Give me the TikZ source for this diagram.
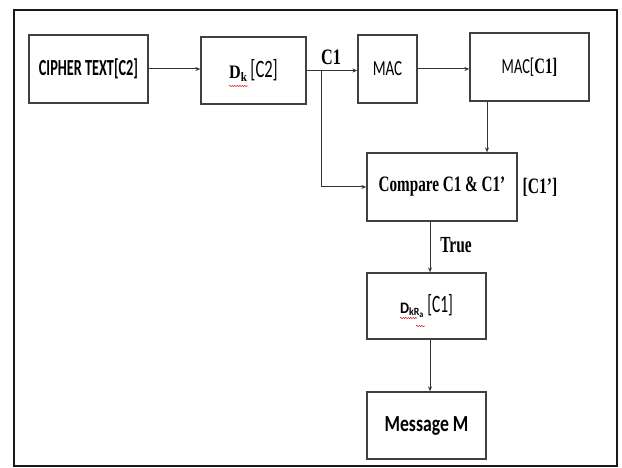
\documentclass[tikz,border=0pt]{standalone}
\usepackage{fontspec}
\usepackage{graphicx}
\setmainfont{Liberation Serif}
\newfontfamily\calfont{Carlito}
\usetikzlibrary{arrows.meta,decorations.pathmorphing}
\newcommand\hs[2]{\scalebox{#1}[1]{#2}}
\newcommand\fs[1]{\fontsize{#1}{#1}\selectfont}
\begin{document}
\begin{tikzpicture}[x=1pt,y=-1pt,
  box/.style={draw=black!75,line width=1.3pt,inner sep=0pt,anchor=center},
  conn/.style={draw=black!80,line width=1pt,-{Stealth[length=5pt,width=4pt]}},
  lbl/.style={inner sep=0pt,anchor=center},
  squig/.style={draw=red!85!black,line width=0.5pt,decorate,decoration={snake,amplitude=0.6pt,segment length=2.5pt}}]
\useasboundingbox (0,0) rectangle (622,468);
\draw[line width=2.6pt,black!90] (14,10) rectangle (617,466);

\node[box,minimum width=119pt,minimum height=68pt] (cipher) at (88.5,69)
  {\hs{0.62}{\calfont\bfseries\fs{23}CIPHER TEXT[C2]}};
\node[box,minimum width=105pt,minimum height=67pt] (dk) at (253.5,70.5)
  {\raisebox{-1pt}{\hs{0.85}{\fs{19}\bfseries D\textsubscript{\fs{13}k}}}\hspace{3pt}\hs{0.66}{\calfont\fs{25}[C2]}};
\node[box,minimum width=59pt,minimum height=68pt] (mac) at (387.5,69)
  {\hs{0.7}{\calfont\fs{21.5}MAC}};
\node[box,minimum width=119pt,minimum height=68pt] (macc) at (529.5,67)
  {\hs{0.67}{\calfont\fs{21.5}MAC[}\hs{0.67}{\fs{22}\bfseries C1]}};
\node[box,minimum width=150pt,minimum height=68pt] (cmp) at (442,187)
  {\hs{0.69}{\fs{22}\bfseries Compare C1 \& C1’}};
\node[box,minimum width=119pt,minimum height=66pt] (dkra) at (426.5,306)
  {\raisebox{-1pt}{\hs{0.9}{\calfont\bfseries\fs{16}D\textsubscript{\fs{11}kR\textsubscript{\fs{9}a}}}}\hspace{3pt}\hs{0.62}{\calfont\fs{25}[C1]}};
\node[box,minimum width=119pt,minimum height=67pt] (msg) at (426.5,425.5)
  {\hs{0.77}{\calfont\bfseries\fs{23}Message M}};

\node[lbl] (c1) at (331,57) {\hs{0.74}{\fs{22}\bfseries C1}};
\node[lbl] (c1p) at (540,187) {\hs{0.71}{\fs{22}\bfseries [C1’]}};
\node[lbl] (true) at (456,245) {\hs{0.67}{\fs{23}\bfseries True}};

\coordinate (br) at (321,70.5);
\coordinate (xm) at (487,0);
\coordinate (xt) at (430,0);

\draw[conn] (cipher.east) -- (cipher.east -| dk.west);
\draw[conn] (dk.east) -- (dk.east -| mac.west);
\draw[conn] (br) |- (cmp.west);
\draw[conn] (mac.east) -- (mac.east -| macc.west);
\draw[conn] (xm |- macc.south) -- (xm |- cmp.north);
\draw[conn] (xt |- cmp.south) -- (xt |- dkra.north);
\draw[conn] (xt |- dkra.south) -- (xt |- msg.north);

\draw[squig] (229,86) -- (248,86);
\draw[squig] (400,318) -- (417,318);
\draw[squig] (416,326) -- (425,326);
\end{tikzpicture}
\end{document}
